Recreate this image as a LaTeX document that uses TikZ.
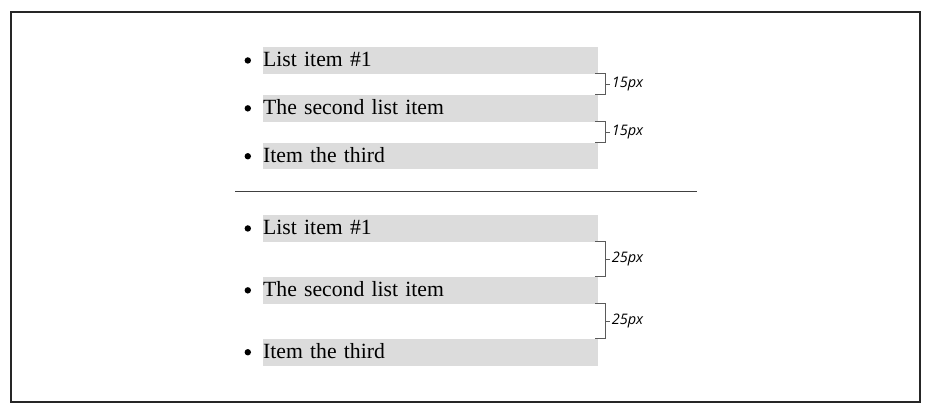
\documentclass[tikz,border=0pt]{standalone}
\usepackage{fontspec}
\setmainfont{Liberation Serif}
\newfontfamily\pxfont{Open Sans}
\usepackage{tikz}
\usetikzlibrary{positioning}
\definecolor{bargray}{HTML}{DCDCDC}
\definecolor{bracegray}{HTML}{5A5A5A}
\tikzset{itembar/.style={fill=bargray, inner sep=0pt, minimum width=335pt, minimum height=26.5pt,
    text width=335pt, align=left, text height=16pt, text depth=3pt, font=\fontsize{21.7}{24}\selectfont}}
\tikzset{itemdot/.style={circle, fill=black, inner sep=0pt, minimum size=6.4pt}}
\tikzset{brace/.style={draw=bracegray, line width=0.9pt}}
\tikzset{pxlabel/.style={right, inner sep=1pt, font=\pxfont\itshape\fontsize{14.5}{16}\selectfont}}

\begin{document}
\begin{tikzpicture}[x=1pt,y=-1pt]
\useasboundingbox (0,0) rectangle (935,414);
\draw[line width=1.2pt, black!85] (11,12) rectangle (920,402);
% top list, 15px spacing
\node[itembar, anchor=north west] (a1) at (263,47) {List item \#1};
\node[itembar, below=21pt of a1] (a2) {The second list item};
\node[itembar, below=21pt of a2] (a3) {Item the third};
% divider
\draw[line width=0.9pt, black!75] (235,191.5) -- (697,191.5);
% bottom list, 25px spacing
\node[itembar, anchor=north west] (b1) at (263,215) {List item \#1};
\node[itembar, below=35pt of b1] (b2) {The second list item};
\node[itembar, below=35pt of b2] (b3) {Item the third};
\foreach \n in {a1,a2,a3,b1,b2,b3} {
\node[itemdot, left=11.8pt of \n.west] (dot-\n) {};
}
% brackets
\draw[brace] ([xshift=-3pt]a1.south east) -- ([xshift=7pt]a1.south east) -- coordinate[midway] (ma1) ([xshift=7pt]a2.north east) -- ([xshift=-3pt]a2.north east);
\draw[brace] ([xshift=-3pt]a2.south east) -- ([xshift=7pt]a2.south east) -- coordinate[midway] (ma2) ([xshift=7pt]a3.north east) -- ([xshift=-3pt]a3.north east);
\draw[brace] ([xshift=-3pt]b1.south east) -- ([xshift=7pt]b1.south east) -- coordinate[midway] (mb1) ([xshift=7pt]b2.north east) -- ([xshift=-3pt]b2.north east);
\draw[brace] ([xshift=-3pt]b2.south east) -- ([xshift=7pt]b2.south east) -- coordinate[midway] (mb2) ([xshift=7pt]b3.north east) -- ([xshift=-3pt]b3.north east);
\draw[brace] (ma1) -- ++(5,0) node[pxlabel] {15px};
\draw[brace] (ma2) -- ++(5,0) node[pxlabel] {15px};
\draw[brace] (mb1) -- ++(5,0) node[pxlabel] {25px};
\draw[brace] (mb2) -- ++(5,0) node[pxlabel] {25px};
\end{tikzpicture}
\end{document}
